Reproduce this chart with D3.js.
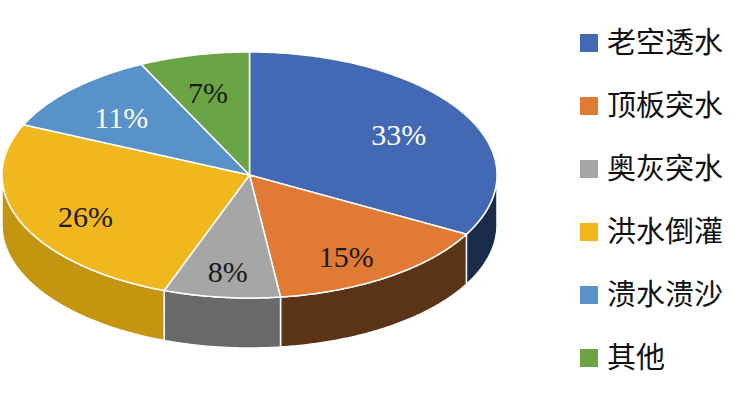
<!DOCTYPE html>
<html>
<head>
<meta charset="utf-8">
<script src="https://cdn.jsdelivr.net/npm/d3@7"></script>
<style>
  html, body { margin: 0; padding: 0; background: #fff; }
  svg { display: block; }
</style>
</head>
<body>
<svg id="chart" width="731" height="411"></svg>
<script>
const categories = ["老空透水", "顶板突水", "奥灰突水", "洪水倒灌", "溃水溃沙", "其他"];
// slice sizes (labels show the rounded percentages)
const values = [33, 15, 7.6, 26.1, 11.1, 7.2];
const labels = ["33%", "15%", "8%", "26%", "11%", "7%"];
const topColors = ["#4469B4", "#E07A35", "#A6A6A6", "#F0B71E", "#5892C9", "#6AA444"];
const sideColors = ["#1B2B4C", "#5B3418", "#696969", "#C4950F", "#3A6690", "#46722C"];
const labelColors = ["#ffffff", "#1a1a1a", "#1a1a1a", "#1a1a1a", "#ffffff", "#1a1a1a"];

const W = 731, H = 411;
const cx = 249.5, cy = 175, rx = 247.5, ry = 123, depth = 50;

const svg = d3.select("#chart");

const pie = d3.pie().sort(null).value(d => d).startAngle(0).endAngle(2 * Math.PI);
const arcs = pie(values);

// projection: angle measured clockwise from 12 o'clock
const pt = (a, z) => [cx + rx * Math.sin(a), cy - ry * Math.cos(a) + z];
const line = d3.line();

function sample(a0, a1, z) {
  const n = Math.max(2, Math.ceil(Math.abs(a1 - a0) / 0.01));
  return d3.range(n + 1).map(i => pt(a0 + (a1 - a0) * i / n, z));
}

// walls (front half only: angles between PI/2 and 3PI/2)
const gWalls = svg.append("g");
arcs.forEach((d, i) => {
  const s = Math.max(d.startAngle, Math.PI / 2);
  const e = Math.min(d.endAngle, 3 * Math.PI / 2);
  if (e <= s) return;
  const pts = sample(s, e, 0).concat(sample(e, s, depth));
  gWalls.append("path")
    .attr("d", line(pts) + "Z")
    .attr("fill", sideColors[i])
    .attr("stroke", "#fff")
    .attr("stroke-width", 1.5)
    .attr("stroke-linejoin", "round");
});

// top faces
const gTop = svg.append("g");
arcs.forEach((d, i) => {
  const pts = [[cx, cy]].concat(sample(d.startAngle, d.endAngle, 0));
  gTop.append("path")
    .attr("d", line(pts) + "Z")
    .attr("fill", topColors[i])
    .attr("stroke", "#fff")
    .attr("stroke-width", 1.5)
    .attr("stroke-linejoin", "round");
});

// labels
const fx = 0.71, fy = 0.74;
svg.append("g").selectAll("text")
  .data(arcs)
  .join("text")
  .attr("x", d => { const m = (d.startAngle + d.endAngle) / 2; return cx + rx * fx * Math.sin(m) - 2; })
  .attr("y", d => { const m = (d.startAngle + d.endAngle) / 2; return cy - ry * fy * Math.cos(m) + 6; })
  .attr("dy", "0.35em")
  .attr("text-anchor", "middle")
  .attr("font-family", "'Liberation Serif', 'Times New Roman', serif")
  .attr("font-size", 30)
  .attr("fill", (d, i) => labelColors[i])
  .text((d, i) => labels[i]);

// legend
const legendY = d3.scalePoint().domain(categories).range([43, 358]);
const lg = svg.append("g");
categories.forEach((c, i) => {
  const y = legendY(c);
  lg.append("rect")
    .attr("x", 580).attr("y", y - 9)
    .attr("width", 18).attr("height", 18)
    .attr("fill", topColors[i]);
  lg.append("text")
    .attr("x", 607).attr("y", y)
    .attr("dy", "0.36em")
    .attr("font-family", "'Noto Sans CJK SC', sans-serif")
    .attr("font-size", 29)
    .attr("fill", "#111")
    .text(c);
});
</script>
</body>
</html>
